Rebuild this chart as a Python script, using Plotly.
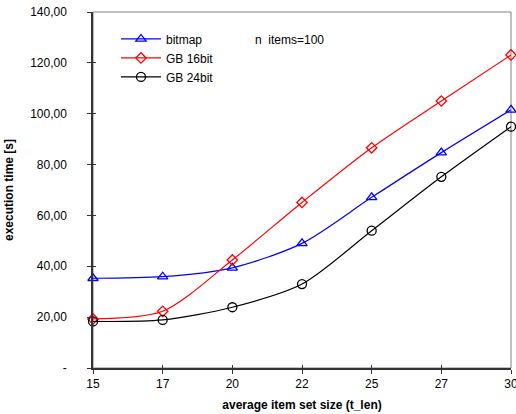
import plotly.graph_objects as go

categories = ["15", "17", "20", "22", "25", "27", "30"]
bitmap = [35.3, 35.9, 39.4, 49.0, 67.1, 84.7, 101.5]
gb16 = [19.3, 22.3, 42.5, 65.1, 86.6, 105.0, 123.1]
gb24 = [18.3, 18.9, 23.9, 33.0, 54.0, 75.2, 94.9]
y_ticks = [0, 20, 40, 60, 80, 100, 120, 140]
y_labels = ["-", "20,00", "40,00", "60,00", "80,00", "100,00", "120,00", "140,00"]

xi = list(range(len(categories)))
FONT = "Liberation Sans, Arial, sans-serif"

fig = go.Figure()
series = [
    ("bitmap", bitmap, "#0000FF", "triangle-up-open", 9),
    ("GB 16bit", gb16, "#FF0000", "diamond-open", 8),
    ("GB 24bit", gb24, "#000000", "circle-open", 9),
]
for name, vals, col, sym, sz in series:
    fig.add_trace(go.Scatter(
        x=xi, y=vals, name=name, mode="lines+markers",
        line=dict(color=col, width=1.2, shape="spline", smoothing=0.8),
        marker=dict(symbol=sym, size=sz, color=col, line=dict(color=col, width=1.3)),
        cliponaxis=False,
    ))

# invisible trace so the overlay axes (inner half of crossing ticks) are drawn
fig.add_trace(go.Scatter(x=[xi[0]], y=[y_ticks[0]], xaxis="x2", yaxis="y2",
                         mode="markers", marker=dict(opacity=0), showlegend=False,
                         hoverinfo="skip"))

fig.add_shape(type="rect", xref="paper", yref="paper", x0=0, y0=0, x1=1, y1=1,
              line=dict(color="#808080", width=1), layer="below")

fig.update_layout(
    width=516, height=414,
    margin=dict(l=93, r=5, t=12, b=46, autoexpand=False),
    paper_bgcolor="white", plot_bgcolor="white",
    font=dict(family=FONT, size=11, color="#000000"),
    showlegend=True,
    legend=dict(x=0.055, y=0.965, xanchor="left", yanchor="top",
                bgcolor="rgba(0,0,0,0)", font=dict(size=12), tracegroupgap=0,
                itemwidth=40),
    xaxis=dict(range=[0, 6], tickvals=xi, ticktext=categories,
               showgrid=False, zeroline=False, showline=True,
               linecolor="#333333", linewidth=1.5,
               ticks="outside", ticklen=4, tickcolor="#333333",
               tickfont=dict(size=12), ticklabeloverflow="allow",
               title=dict(text="<b>average item set size (t_len)</b>", font=dict(size=12), standoff=10)),
    yaxis=dict(range=[0, 140], tickvals=y_ticks, ticktext=y_labels,
               showgrid=False, zeroline=False, showline=True,
               linecolor="#333333", linewidth=1.5,
               ticks="outside", ticklen=4, tickcolor="#333333",
               tickfont=dict(size=12), ticklabelstandoff=18,
               title=dict(text="<b>execution time [s]</b>", font=dict(size=12), standoff=14)),
    xaxis2=dict(overlaying="x", range=[0, 6], tickvals=xi, showticklabels=False,
                showgrid=False, zeroline=False, showline=False,
                ticks="inside", ticklen=3, tickcolor="#333333", side="bottom"),
    yaxis2=dict(overlaying="y", range=[0, 140], tickvals=y_ticks, showticklabels=False,
                showgrid=False, zeroline=False, showline=False,
                ticks="inside", ticklen=3, tickcolor="#333333", side="left"),
    annotations=[dict(text="n  items=100", xref="paper", yref="paper",
                      x=(253 - 93) / 418, y=(368 - 40) / 356, xanchor="left", yanchor="middle",
                      showarrow=False, font=dict(size=12))],
)

fig.write_html("out.html", config={"displayModeBar": False},
               post_script="document.body.style.margin='0';document.body.style.overflow='hidden';")
